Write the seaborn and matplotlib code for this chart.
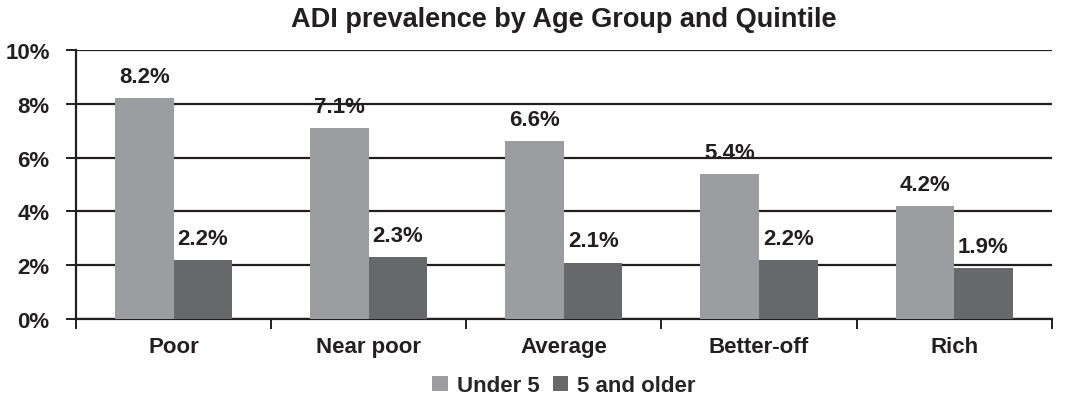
import pandas as pd
import matplotlib.pyplot as plt
import seaborn as sns
from matplotlib.ticker import FixedLocator

# Data
quintiles = ['Poor', 'Near poor', 'Average', 'Better-off', 'Rich']
under5 = [8.2, 7.1, 6.6, 5.4, 4.2]
older = [2.2, 2.3, 2.1, 2.2, 1.9]
groups = ['Under 5', '5 and older']

df = pd.DataFrame({
    'Quintile': quintiles * 2,
    'Group': [groups[0]] * len(quintiles) + [groups[1]] * len(quintiles),
    'Prevalence': under5 + older,
})

sns.set_style('white')
plt.rcParams['font.family'] = ['Liberation Sans', 'DejaVu Sans']
plt.rcParams['font.weight'] = 'bold'

fig = plt.figure(figsize=(10.71, 4.02), dpi=100)
ax = fig.add_axes([0.071, 0.204, 0.911, 0.669])

sns.barplot(data=df, x='Quintile', y='Prevalence', hue='Group',
            palette=['#9c9da1', '#67686a'], width=0.6, gap=0,
            saturation=1, linewidth=0, ax=ax, zorder=3)

# value labels
for cont in ax.containers:
    ax.bar_label(cont, labels=[f'{v:.1f}%' for v in cont.datavalues],
                 padding=8, fontsize=16, fontweight='bold', color='#231f20')

ax.set_ylim(0, 10)
ax.set_xlim(-0.5, 4.5)
ax.set_yticks(range(0, 11, 2))
ax.set_yticklabels([f'{t}%' for t in range(0, 11, 2)])
ax.yaxis.grid(True, color='#231f20', linewidth=1.6, zorder=0)
ax.set_axisbelow(True)

# ticks at category boundaries
ax.xaxis.set_minor_locator(FixedLocator([i + 0.5 for i in range(-1, 5)]))
ax.tick_params(axis='x', which='both', bottom=True)
ax.tick_params(axis='x', which='major', length=0, pad=12, labelsize=16)
ax.tick_params(axis='x', which='minor', length=7, width=1.4, color='#231f20', direction='out')
ax.tick_params(axis='y', left=True, length=7, width=1.4, color='#231f20', direction='out',
               labelsize=16, pad=12)
for lab in ax.get_xticklabels() + ax.get_yticklabels():
    lab.set_fontweight('bold')
    lab.set_color('#231f20')

sns.despine(ax=ax)
for side in ['left', 'bottom']:
    ax.spines[side].set_color('#231f20')
    ax.spines[side].set_linewidth(1.6)

ax.set_xlabel('')
ax.set_ylabel('')
ax.set_title('ADI prevalence by Age Group and Quintile', fontsize=19.5,
             fontweight='bold', color='#231f20', pad=17)

ax.legend(loc='upper center', bbox_to_anchor=(0.5, -0.135), ncol=2, frameon=False,
          handlelength=0.7, handleheight=0.7, handletextpad=0.4, columnspacing=0.6,
          prop={'weight': 'bold', 'size': 16})

fig.savefig('out.png', dpi=100)
